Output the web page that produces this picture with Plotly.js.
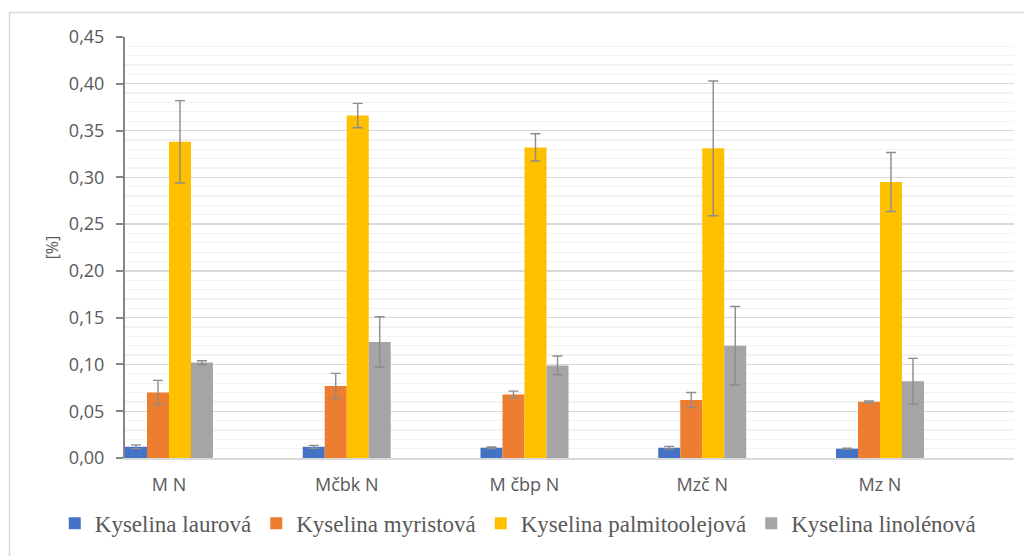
<!DOCTYPE html>
<html>
<head>
<meta charset="utf-8">
<script src="https://cdn.plot.ly/plotly-3.0.1.min.js"></script>
<style>
  html, body { margin: 0; padding: 0; background: #ffffff; }
  #chart { width: 1024px; height: 556px; }
</style>
</head>
<body>
<div id="chart"></div>
<script>
// Samples
const categories = ['M N', 'Mčbk N', 'M čbp N', 'Mzč N', 'Mz N'];

// Fatty acid content [%] and standard deviations
const laurova = [0.012, 0.012, 0.011, 0.011, 0.010];
const laurovaSd = [0.002, 0.0015, 0.0008, 0.0014, 0.0005];

const myristova = [0.070, 0.077, 0.068, 0.062, 0.060];
const myristovaSd = [0.013, 0.0135, 0.0035, 0.008, 0.001];

const palmitoolejova = [0.338, 0.366, 0.332, 0.331, 0.295];
const palmitoolejovaSd = [0.044, 0.013, 0.0146, 0.072, 0.0315];

const linolenova = [0.102, 0.124, 0.099, 0.120, 0.082];
const linolenovaSd = [0.002, 0.027, 0.010, 0.042, 0.0245];

const seriesNames = ['Kyselina laurová', 'Kyselina myristová', 'Kyselina palmitoolejová', 'Kyselina linolénová'];
const seriesColors = ['#4472C4', '#ED7D31', '#FFC000', '#A5A5A5'];
const seriesValues = [laurova, myristova, palmitoolejova, linolenova];
const seriesSd = [laurovaSd, myristovaSd, palmitoolejovaSd, linolenovaSd];

const traces = seriesNames.map((name, i) => ({
  type: 'bar',
  name: name,
  x: categories,
  y: seriesValues[i],
  marker: { color: seriesColors[i] },
  error_y: {
    type: 'data',
    array: seriesSd[i],
    visible: true,
    color: '#8c8c8c',
    thickness: 1.4,
    width: 5
  },
  hoverinfo: 'x+y+name'
}));

const textGrey = '#595959';
const sansFont = 'Open Sans, Noto Sans, sans-serif';

const layout = {
  width: 1024,
  height: 556,
  margin: { l: 125, r: 10, t: 37, b: 98 },
  paper_bgcolor: '#ffffff',
  plot_bgcolor: '#ffffff',
  separators: ', ',
  barmode: 'group',
  bargap: 0.505,
  bargroupgap: 0,
  showlegend: true,
  legend: {
    orientation: 'h',
    x: -0.079,
    xanchor: 'left',
    y: -0.155,
    yanchor: 'middle',
    itemwidth: 30,
    font: { family: 'Liberation Serif, Times New Roman, serif', size: 23, color: textGrey },
    bgcolor: 'rgba(0,0,0,0)'
  },
  xaxis: {
    type: 'category',
    range: [-0.2475, 4.754],
    showgrid: false,
    zeroline: false,
    showline: true,
    linecolor: '#d9d9d9',
    linewidth: 1.5,
    ticks: '',
    ticklabelstandoff: 10,
    tickfont: { family: sansFont, size: 18, color: textGrey },
    fixedrange: true
  },
  yaxis: {
    range: [0, 0.45],
    tick0: 0,
    dtick: 0.05,
    tickformat: '.2f',
    showgrid: true,
    gridcolor: '#d9d9d9',
    gridwidth: 1.3,
    minor: {
      dtick: 0.01,
      showgrid: true,
      gridcolor: '#f2f2f2',
      gridwidth: 1.3,
      ticks: ''
    },
    zeroline: false,
    showline: true,
    linecolor: '#868686',
    linewidth: 2,
    ticks: 'outside',
    ticklen: 7,
    tickwidth: 2,
    tickcolor: '#868686',
    ticklabelstandoff: 8,
    tickfont: { family: sansFont, size: 18, color: textGrey },
    title: {
      text: '[%]',
      font: { family: sansFont, size: 16, color: textGrey },
      standoff: 6
    },
    fixedrange: true
  },
  // Inner half of the cross tick marks on the value axis
  yaxis2: {
    overlaying: 'y',
    side: 'left',
    range: [0, 0.45],
    tick0: 0,
    dtick: 0.05,
    showgrid: false,
    zeroline: false,
    showline: false,
    showticklabels: false,
    ticks: 'inside',
    ticklen: 7,
    tickwidth: 2,
    tickcolor: '#868686',
    fixedrange: true
  },
  // Chart area frame
  shapes: [{
    type: 'rect',
    xref: 'paper',
    yref: 'paper',
    x0: -0.1299,
    x1: 1.2,
    y0: -0.5,
    y1: 1.0582,
    line: { color: '#d9d9d9', width: 1.5 },
    fillcolor: 'rgba(0,0,0,0)',
    layer: 'below'
  }]
};

Plotly.newPlot('chart', traces, layout, { displayModeBar: false, staticPlot: true });
</script>
</body>
</html>
